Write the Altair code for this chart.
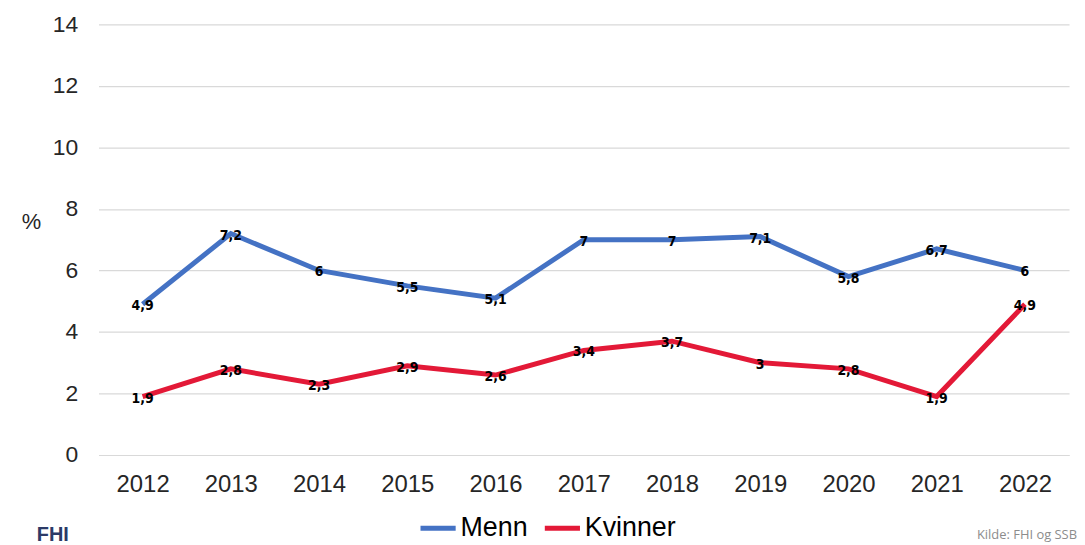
import altair as alt
import pandas as pd

years = ["2012", "2013", "2014", "2015", "2016", "2017", "2018", "2019", "2020", "2021", "2022"]
menn = [4.9, 7.2, 6.0, 5.5, 5.1, 7.0, 7.0, 7.1, 5.8, 6.7, 6.0]
kvinner = [1.9, 2.8, 2.3, 2.9, 2.6, 3.4, 3.7, 3.0, 2.8, 1.9, 4.9]
series = ["Menn", "Kvinner"]
colors = ["#4472C4", "#E31937"]

rows = []
for y, v in zip(years, menn):
    rows.append({"year": y, "value": v, "series": "Menn"})
for y, v in zip(years, kvinner):
    rows.append({"year": y, "value": v, "series": "Kvinner"})
df = pd.DataFrame(rows)

W, H = 976, 433
LABEL_FONT = "DejaVu Sans Condensed, Open Sans, sans-serif"

x = alt.X("year:N", sort=years,
          scale=alt.Scale(paddingInner=0, paddingOuter=0.5),
          axis=alt.Axis(title=None, labelAngle=0, labelFontSize=24, labelFont="Liberation Sans",
                        labelColor="#262626", labelPadding=18, domain=True, domainColor="#d9d9d9",
                        domainWidth=1.2, ticks=False, grid=False))
y = alt.Y("value:Q",
          scale=alt.Scale(domain=[0, 14], nice=False),
          axis=alt.Axis(values=[0, 2, 4, 6, 8, 10, 12, 14], title="%", titleAngle=0,
                        titleFontSize=22, titleFont="Liberation Sans", titleFontWeight="normal",
                        titleColor="#262626", titleX=-68, titleY=210,
                        labelFontSize=23, labelFont="Liberation Sans", labelColor="#262626",
                        labelPadding=21, domain=False, ticks=False,
                        grid=True, gridColor="#d9d9d9", gridWidth=1.2))
color = alt.Color("series:N",
                  scale=alt.Scale(domain=series, range=colors),
                  legend=alt.Legend(title=None, orient="none", direction="horizontal",
                                    legendX=321, legendY=486,
                                    symbolType="stroke", symbolStrokeWidth=5, symbolSize=1250,
                                    labelFontSize=27, labelFont="Liberation Sans",
                                    labelColor="#000000", columnPadding=6, labelOffset=2))

base = alt.Chart(df)
lines = base.mark_line(strokeWidth=5).encode(x=x, y=y, color=color, detail="series:N")
labels = base.transform_calculate(
    lab="replace(toString(datum.value), '.', ',')"
).mark_text(font=LABEL_FONT, fontWeight="bold", fontSize=14, color="#000000",
            baseline="middle", align="center", dy=2).encode(
    x=alt.X("year:N", sort=years), y=alt.Y("value:Q"), text="lab:N")

src = alt.Chart(pd.DataFrame({"t": ["Kilde: FHI og SSB"]})).mark_text(
    font="Open Sans, sans-serif", fontSize=13, color="#8c8c8c", align="right", baseline="middle"
).encode(text="t:N", x=alt.value(W + 8), y=alt.value(513))

logo = alt.Chart(pd.DataFrame({"t": ["FHI"]})).mark_text(
    font="Liberation Sans", fontSize=20, fontWeight="bold", color="#2b3a67", align="left",
    baseline="middle"
).encode(text="t:N", x=alt.value(-62), y=alt.value(513))

chart = alt.layer(lines, labels, src, logo).properties(
    width=W, height=H,
    autosize=alt.AutoSizeParams(type="none"),
    padding={"left": 91, "top": 15, "right": 8, "bottom": 88},
    background="white",
).configure_view(stroke=None)

chart.save("out.html", embed_options={"renderer": "svg", "actions": False})
